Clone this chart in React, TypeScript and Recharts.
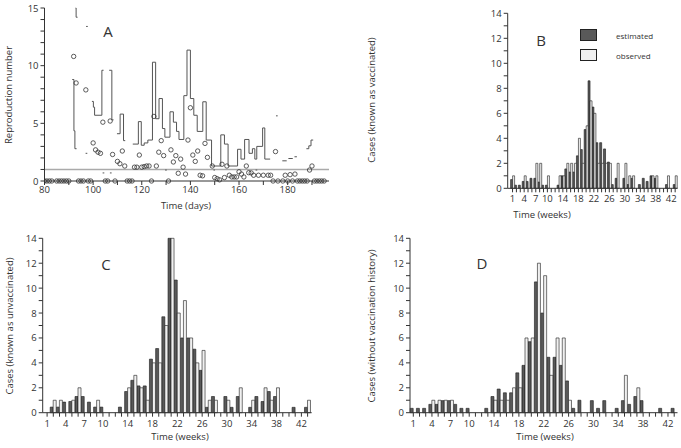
import React from 'react';
import {
  ComposedChart, BarChart, Bar, Line, Scatter, XAxis, YAxis, ReferenceLine, Legend,
} from 'recharts';

// ---- panel A: daily reproduction number ----
const estimatePoints: [number, number][] = [
  [80, 0], [81, 0], [82, 0], [83, 0], [85, 0], [86, 0], [87, 0], [88, 0], [89, 0], [90, 0],
  [92, 10.8], [93, 8.5], [94, 0], [95, 0], [96, 0], [97, 7.9], [98, 0], [99, 0],
  [100, 3.3], [101, 2.7], [102, 2.5], [103, 2.4], [104, 5.1], [105, 0], [106, 0], [107, 5.2], [108, 2.3], [109, 0],
  [110, 1.7], [111, 1.5], [112, 2.6], [113, 1.3], [114, 0], [115, 0], [116, 0], [117, 1.2], [118, 1.2], [119, 2.25],
  [120, 1.2], [121, 1.25], [122, 1.3], [123, 1.3], [124, 0], [125, 5.6], [126, 1.3], [127, 2.5], [128, 3.5], [129, 2.2],
  [131, 0], [132, 2.7], [133, 1.65], [134, 2.2], [135, 0.67], [136, 1.9], [137, 1.2], [138, 0.6], [139, 3.55],
  [140, 6.35], [141, 2.25], [142, 1.7], [143, 2.6], [144, 0.5], [145, 0.45], [146, 3.26], [147, 2.05], [149, 1.3],
  [150, 0.3], [151, 0.2], [152, 0.1], [153, 1.45], [154, 0.3], [155, 1.3], [156, 0.5], [157, 0.35], [158, 0.35], [159, 0.35],
  [160, 0.8], [161, 0.6], [162, 0.35], [163, 1.3], [164, 0.72], [165, 0.7], [166, 0.5], [168, 0.5], [170, 0.5], [172, 0.5], [173, 0.5],
  [174, 0], [175, 2.55], [176, 0], [178, 0], [179, 0.5], [180, 0], [181, 0.55], [182, 0], [183, 0.6], [184, 0], [185, 0],
  [186, 0], [187, 0], [188, 0], [189, 0.95], [190, 1.3], [191, 0], [192, 0], [193, 0], [194, 0], [195, 0],
];

// upper bound (step), null = gap
const upperSteps: [number, number | null][] = [
  [91.4, 8.8], [92.1, 4.35], [92.5, 2.8], [93.2, 2.8], [94, null],
  [99.5, 6.9], [100.1, 6.4], [100.6, 5.7], [103.6, 9.6], [104.3, 9.6], [105, null],
  [106.6, 9.6], [107.7, 5.3], [108.4, 5.3], [109, null],
  [109.8, 4.1], [111.1, 5.8], [112.5, 3.5], [113.2, 3.5], [114, null],
  [116.3, 3.2], [118.6, 5.15], [119.8, 3.1], [121, 3.3], [122.5, 3.55], [124.4, 10.3], [125.7, 5.4],
  [127.1, 7.15], [128.5, 4.55], [129.5, 3.8], [131.6, 6.0], [133, 5.1], [134.3, 4.3], [135.3, 3.6],
  [137.3, 7.4], [138.6, 11.35], [140, 7.15], [141.4, 5.7], [142.8, 4.3], [145.1, 6.87], [146.5, 3.55],
  [148.7, 1.3], [152.5, 4.0], [154, 3.2], [155.5, 1.3], [159.4, 2.75], [160.8, 1.9], [162.3, 3.6],
  [164.1, 2.4], [165.5, 2.8], [166.5, 1.9], [167.3, 3.0], [169.7, 4.6], [170.6, 1.9], [172.8, 1.9],
];

const extraSteps: [number, number | null][] = [
  [92.8, 15], [93.0, 14.2], [93.6, 14.2], [94, null],
  [97.1, 13.4], [97.8, 13.4], [98, null],
  [175.2, 5.65], [175.9, 5.65], [176, null],
  [177.8, 1.75], [179.6, 1.75], [180, null],
  [180.3, 1.95], [182.1, 1.95], [182.5, null],
  [182.8, 2.1], [183.8, 2.1], [184, null],
  [187.7, 2.8], [188.7, 3.05], [189.6, 3.55], [190.5, 3.55],
];

const lowerSteps: [number, number | null][] = [
  [96.9, 2.4], [97.6, 2.4], [98, null],
  [103.9, 0.7], [104.6, 0.7], [105, null],
  [106.9, 0.7], [107.6, 0.7], [108, null],
  [129.6, 0.95], [130.3, 0.95], [131, null],
  [149.5, 0.95], [150.1, 0.95], [151, null],
  [166.8, 0.95], [167.5, 0.95],
];

const dayTicks = [80, 90, 100, 110, 120, 130, 140, 150, 160, 170, 180, 190];
const rTicks = [0, 1, 2, 3, 4, 5, 6, 7, 8, 9, 10, 11, 12, 13, 14, 15];

// ---- panels B, C, D: weekly cases ----
const weeks = [1, 2, 3, 4, 5, 6, 7, 8, 9, 10, 11, 12, 13, 14, 15, 16, 17, 18, 19, 20, 21, 22,
  23, 24, 25, 26, 27, 28, 29, 30, 31, 32, 33, 34, 35, 36, 37, 38, 39, 40, 41, 42, 43];
const weekLabels = [1, 4, 7, 10, 14, 18, 22, 26, 30, 34, 38, 42];
const caseTicks = [0, 1, 2, 3, 4, 5, 6, 7, 8, 9, 10, 11, 12, 13, 14];

const vaccEst = [0.7, 0.25, 0.25, 0.55, 0.55, 0.8, 0.8, 0.5, 0.25, 0.25, 0, 0, 0.25, 1, 1.55, 1.3, 1.3, 2.6, 3.1, 4.7, 8.6, 6.5,
  3.65, 3.65, 3.15, 2.1, 0.3, 0.8, 0, 0.8, 0.3, 0.8, 0, 0.3, 0.8, 0.55, 1.0, 0.8, 0, 0, 0.3, 0, 0.3];
const vaccObs = [1, 0, 0, 1, 0, 0, 2, 2, 0, 1, 0, 0, 1, 1, 2, 2, 2, 4, 2, 5, 7, 6,
  2, 2, 2, 2, 0, 2, 0, 2, 1, 1, 0, 0, 0, 0, 1, 1, 0, 0, 1, 0, 1];

const unvaccEst = [0, 0.45, 0.45, 0.85, 0.9, 1.3, 1.3, 0.85, 0.45, 0.45, 0, 0, 0.45, 1.7, 2.6, 2.15, 2.15, 4.3, 5.15, 7.7, 14, 10.65,
  6.0, 6.0, 5.1, 3.4, 0.43, 1.3, 0, 1.3, 0.43, 1.3, 0, 0.43, 1.3, 0.9, 1.7, 1.3, 0, 0, 0.43, 0, 0.43];
const unvaccObs = [0, 1, 1, 0, 1, 2, 0, 0, 1, 0, 0, 0, 0, 2, 3, 2, 1, 4, 4, 7, 14, 8,
  9, 6, 4, 5, 1, 1, 0, 1, 0, 2, 0, 1, 0, 2, 1, 2, 0, 0, 0, 0, 1];

const unknownEst = [0.35, 0.35, 0.35, 0.67, 0.67, 0.97, 0.97, 0.67, 0.35, 0.35, 0, 0, 0.35, 1.3, 1.9, 1.6, 1.6, 3.2, 3.8, 5.7, 10.5, 8.0,
  4.45, 4.45, 3.8, 2.55, 0.35, 1.0, 0, 0.97, 0.35, 0.97, 0, 0.35, 0.97, 0.67, 1.3, 0.97, 0, 0, 0.35, 0, 0.35];
const unknownObs = [0, 0, 0, 1, 1, 1, 1, 0, 0, 0, 0, 0, 0, 1, 1, 1, 2, 2, 6, 6, 12, 11,
  3, 6, 6, 1, 0, 0, 0, 0, 0, 0, 0, 0, 3, 0, 2, 0, 0, 0, 0, 0, 0];

const FONT = "'Open Sans', 'Liberation Sans', sans-serif";
const INK = '#333';

const toRows = (pts: [number, number | null][]) => pts.map(([day, v]) => ({ day, v }));

const RTick = (props: any) => {
  const { x, y, payload } = props;
  if (payload.value % 5 !== 0) return <g />;
  return (
    <text x={x} y={y} dy={3.5} textAnchor="end" fontSize={9.5} fill={INK} fontFamily={FONT}>
      {payload.value}
    </text>
  );
};

const DayTick = (props: any) => {
  const { x, y, payload } = props;
  if (payload.value % 20 !== 0) return <g />;
  return (
    <text x={x} y={y} dy={7} textAnchor="middle" fontSize={9.5} fill={INK} fontFamily={FONT}>
      {payload.value}
    </text>
  );
};

const EvenTick = (props: any) => {
  const { x, y, payload } = props;
  if (payload.value % 2 !== 0) return <g />;
  return (
    <text x={x} y={y} dy={3.5} textAnchor="end" fontSize={9.5} fill={INK} fontFamily={FONT}>
      {payload.value}
    </text>
  );
};

const WeekTick = (props: any) => {
  const { x, y, payload } = props;
  if (!weekLabels.includes(payload.value)) return <g />;
  return (
    <text x={x} y={y} dy={8} textAnchor="middle" fontSize={9.5} fill={INK} fontFamily={FONT}>
      {payload.value}
    </text>
  );
};

const Circle = (props: any) => (
  <circle cx={props.cx} cy={props.cy} r={2.2} fill="none" stroke="#333" strokeWidth={0.8} />
);

function PanelA() {
  return (
    <div style={{ position: 'absolute', left: 0, top: 0 }}>
      <ComposedChart width={340} height={215} margin={{ top: 8, right: 11, bottom: 9, left: 14.5 }}>
        <XAxis
          type="number"
          dataKey="day"
          domain={[80, 197]}
          ticks={dayTicks}
          interval={0}
          tick={<DayTick />}
          tickSize={4}
          tickMargin={1}
          height={25}
          allowDataOverflow
          stroke={INK}
        />
        <YAxis
          type="number"
          dataKey="v"
          domain={[0, 15]}
          ticks={rTicks}
          interval={0}
          tick={<RTick />}
          tickSize={4}
          width={30}
          stroke={INK}
        />
        <ReferenceLine y={1} stroke="#aaa" strokeWidth={1.5} />
        <Line data={toRows(upperSteps)} dataKey="v" type="stepAfter" stroke="#555" strokeWidth={1}
          dot={false} connectNulls={false} isAnimationActive={false} />
        <Line data={toRows(extraSteps)} dataKey="v" type="stepAfter" stroke="#555" strokeWidth={1}
          dot={false} connectNulls={false} isAnimationActive={false} />
        <Line data={toRows(lowerSteps)} dataKey="v" type="stepAfter" stroke="#555" strokeWidth={1}
          dot={false} connectNulls={false} isAnimationActive={false} />
        <Scatter data={estimatePoints.map(([day, v]) => ({ day, v }))} shape={<Circle />} isAnimationActive={false} />
      </ComposedChart>
    </div>
  );
}

const LegendBoxes = () => (
  <div style={{ fontFamily: FONT, fontSize: 8, color: INK }}>
    <div style={{ display: 'flex', alignItems: 'center', height: 20 }}>
      <div style={{ width: 15, height: 10, background: '#595959', border: '1px solid #222' }} />
      <span style={{ marginLeft: 19 }}>estimated</span>
    </div>
    <div style={{ display: 'flex', alignItems: 'center', height: 20 }}>
      <div style={{ width: 15, height: 10, background: '#f0f0f0', border: '1px solid #222' }} />
      <span style={{ marginLeft: 19 }}>observed</span>
    </div>
  </div>
);

interface BarPanelProps {
  est: number[];
  obs: number[];
  left: number;
  top: number;
  height: number;
  width: number;
  margin: { top: number; right: number; bottom: number; left: number };
  padLeft: number;
  padRight: number;
  legend?: boolean;
}

function BarPanel({ est, obs, left, top, width, height, margin, padLeft, padRight, legend }: BarPanelProps) {
  const data = weeks.map((week, i) => ({ week, est: est[i], obs: obs[i] }));
  return (
    <div style={{ position: 'absolute', left, top }}>
      <BarChart width={width} height={height} data={data} margin={margin} barCategoryGap={0} barGap={0}>
        <XAxis
          dataKey="week"
          interval={0}
          tick={<WeekTick />}
          tickSize={4}
          height={30}
          padding={{ left: padLeft, right: padRight }}
          stroke={INK}
        />
        <YAxis
          type="number"
          domain={[0, 14]}
          ticks={caseTicks}
          interval={0}
          tick={<EvenTick />}
          tickSize={4}
          width={30}
          stroke={INK}
        />
        {legend && (
          <Legend
            layout="vertical"
            verticalAlign="top"
            align="left"
            content={<LegendBoxes />}
            wrapperStyle={{ left: 240, top: 25, width: 100 }}
          />
        )}
        <Bar dataKey="est" name="estimated" fill="#595959" stroke="#1a1a1a" strokeWidth={0.6} isAnimationActive={false} />
        <Bar dataKey="obs" name="observed" fill="#f0f0f0" stroke="#1a1a1a" strokeWidth={0.6} isAnimationActive={false} />
      </BarChart>
    </div>
  );
}

const Txt = ({ x, y, size = 9.5, rotate = false, children }: any) => (
  <div
    style={{
      position: 'absolute',
      left: x,
      top: y,
      transform: `translate(-50%, -50%)${rotate ? ' rotate(-90deg)' : ''}`,
      whiteSpace: 'nowrap',
      fontFamily: FONT,
      fontSize: size,
      color: INK,
      lineHeight: 1,
    }}
  >
    {children}
  </div>
);

export default function App() {
  return (
    <div style={{ position: 'relative', width: 681, height: 448, background: '#fff', overflow: 'hidden' }}>
      <style>{'body{margin:0}'}</style>
      <PanelA />
      <BarPanel
        est={vaccEst} obs={vaccObs} left={340} top={0} width={341} height={225}
        margin={{ top: 13.3, right: 3.4, bottom: 6.7, left: 37.7 }} padLeft={2.9} padRight={0.5} legend
      />
      <BarPanel
        est={unvaccEst} obs={unvaccObs} left={0} top={225} width={340} height={223}
        margin={{ top: 13.3, right: 28.3, bottom: 5.3, left: 12.7 }} padLeft={1.3} padRight={1}
      />
      <BarPanel
        est={unknownEst} obs={unknownObs} left={340} top={225} width={341} height={223}
        margin={{ top: 13.3, right: 3.5, bottom: 5.3, left: 40 }} padLeft={0.2} padRight={0.2}
      />
      <Txt x={108} y={31} size={15}>A</Txt>
      <Txt x={541} y={40} size={15}>B</Txt>
      <Txt x={106} y={264} size={15}>C</Txt>
      <Txt x={482} y={263} size={15}>D</Txt>
      <Txt x={9} y={95} rotate>Reproduction number</Txt>
      <Txt x={372} y={100} rotate>Cases (known as vaccinated)</Txt>
      <Txt x={10} y={326} rotate>Cases (known as unvaccinated)</Txt>
      <Txt x={372} y={326} rotate>Cases (without vaccination history)</Txt>
      <Txt x={186} y={206}>Time (days)</Txt>
      <Txt x={542} y={215}>Time (weeks)</Txt>
      <Txt x={180} y={437}>Time (weeks)</Txt>
      <Txt x={545} y={437}>Time (weeks)</Txt>
    </div>
  );
}
